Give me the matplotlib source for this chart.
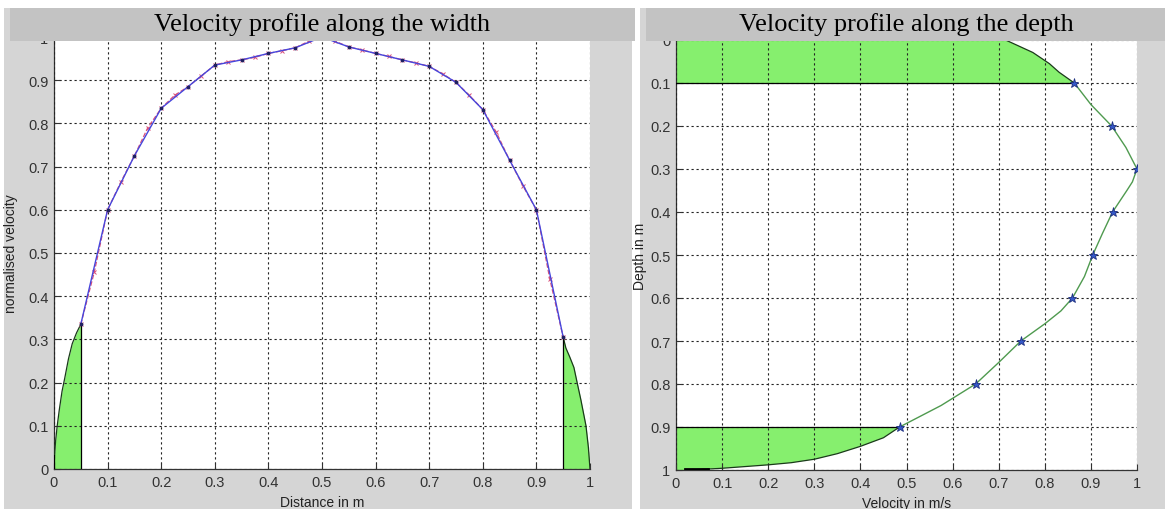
import matplotlib
matplotlib.use('Agg')
import matplotlib.pyplot as plt
from matplotlib import font_manager
from matplotlib.patches import Rectangle, Polygon
from matplotlib.ticker import FuncFormatter, MultipleLocator

# ---- data ----
# left chart: velocity profile along the width
width_x = [0.05, 0.1, 0.15, 0.2, 0.25, 0.3, 0.35, 0.4, 0.45, 0.5,
           0.55, 0.6, 0.65, 0.7, 0.75, 0.8, 0.85, 0.9, 0.95]
width_v = [0.335, 0.60, 0.725, 0.835, 0.885, 0.935, 0.947, 0.962, 0.975, 1.0,
           0.977, 0.962, 0.947, 0.932, 0.895, 0.832, 0.715, 0.60, 0.305]

fit_x = [0.05, 0.075, 0.1, 0.125, 0.15, 0.175, 0.2, 0.225, 0.25, 0.275, 0.3,
         0.325, 0.35, 0.375, 0.4, 0.425, 0.45, 0.475, 0.5, 0.525, 0.55, 0.575,
         0.6, 0.625, 0.65, 0.675, 0.7, 0.725, 0.75, 0.775, 0.8, 0.825, 0.85,
         0.875, 0.9, 0.925, 0.95]
fit_v = [0.335, 0.455, 0.60, 0.665, 0.725, 0.79, 0.835, 0.865, 0.885, 0.91, 0.935,
         0.943, 0.947, 0.953, 0.962, 0.968, 0.975, 0.99, 1.0, 0.99, 0.977, 0.97,
         0.962, 0.955, 0.947, 0.94, 0.932, 0.915, 0.895, 0.865, 0.832, 0.78, 0.715,
         0.655, 0.60, 0.44, 0.305]

# near-wall zones (green)
wall_l_x = [0.0, 0.001, 0.003, 0.006, 0.01, 0.015, 0.02, 0.027, 0.034, 0.042, 0.05]
wall_l_v = [0.0, 0.032, 0.065, 0.10, 0.138, 0.18, 0.21, 0.255, 0.29, 0.315, 0.335]
wall_r_x = [0.95, 0.955, 0.962, 0.97, 0.976, 0.983, 0.9925, 0.997, 1.0]
wall_r_v = [0.305, 0.28, 0.26, 0.235, 0.20, 0.16, 0.10, 0.05, 0.0]

# right chart: velocity profile along the depth
depth_pts = [0.1, 0.2, 0.3, 0.4, 0.5, 0.6, 0.7, 0.8, 0.9]
vel_pts = [0.864, 0.945, 1.0, 0.947, 0.904, 0.86, 0.748, 0.65, 0.485]

curve_depth = [0.0, 0.029, 0.055, 0.075, 0.1, 0.15, 0.2, 0.25, 0.3, 0.33, 0.35,
               0.4, 0.45, 0.5, 0.55, 0.6, 0.63, 0.66, 0.7, 0.75, 0.8, 0.85, 0.9]
curve_vel = [0.715, 0.774, 0.81, 0.831, 0.864, 0.90, 0.945, 0.976, 1.0, 0.99, 0.978,
             0.947, 0.925, 0.904, 0.886, 0.86, 0.835, 0.80, 0.748, 0.70, 0.65, 0.575, 0.485]

bed_depth = [0.9, 0.925, 0.945, 0.962, 0.975, 0.983, 0.988, 0.992, 0.996, 1.0]
bed_vel = [0.485, 0.45, 0.40, 0.35, 0.30, 0.25, 0.20, 0.15, 0.10, 0.03]

GREEN_FILL = '#86ef6e'
PANEL = '#d5d5d5'
BAR = '#c3c3c3'

names = {f.name for f in font_manager.fontManager.ttflist}
sans = 'Liberation Sans Narrow' if 'Liberation Sans Narrow' in names else 'Liberation Sans'
plt.rcParams['font.family'] = sans

W, H = 1165, 510
fig = plt.figure(figsize=(W / 100, H / 100), dpi=100, facecolor='white')


def fx(px):
    return px / W


def fy(py):
    # py measured from the top of the picture
    return 1 - py / H


# grey panels and title bars
fig.add_artist(Rectangle((fx(4), 0), fx(628), fy(9), transform=fig.transFigure,
                         facecolor=PANEL, edgecolor='none', zorder=-2))
fig.add_artist(Rectangle((fx(640), 0), fx(525), fy(9), transform=fig.transFigure,
                         facecolor=PANEL, edgecolor='none', zorder=-2))
fig.add_artist(Rectangle((fx(10), fy(42)), fx(625), 33 / H, transform=fig.transFigure,
                         facecolor=BAR, edgecolor='none', zorder=5))
fig.add_artist(Rectangle((fx(646), fy(42)), fx(519), 33 / H, transform=fig.transFigure,
                         facecolor=BAR, edgecolor='none', zorder=5))

ax1 = fig.add_axes([fx(54), fy(470), fx(536), 432 / H])
ax2 = fig.add_axes([fx(676), fy(471), fx(461), 430 / H])

fig.text(fx(322), fy(25), 'Velocity profile along the width', ha='center', va='center',
         family='Liberation Serif', fontsize=19, zorder=6)
fig.text(fx(906), fy(25), 'Velocity profile along the depth', ha='center', va='center',
         family='Liberation Serif', fontsize=19, zorder=6)


def style(ax):
    ax.set_xlim(0, 1)
    ax.xaxis.set_major_locator(MultipleLocator(0.1))
    ax.yaxis.set_major_locator(MultipleLocator(0.1))
    fmt = FuncFormatter(lambda v, p: '%g' % round(v, 2))
    ax.xaxis.set_major_formatter(fmt)
    ax.yaxis.set_major_formatter(fmt)
    ax.grid(True, color='#222222', linestyle=(0, (2, 2.5)), linewidth=0.8)
    ax.set_axisbelow(False)
    for s in ['top', 'right']:
        ax.spines[s].set_visible(False)
    for s in ['left', 'bottom']:
        ax.spines[s].set_color('#333333')
        ax.spines[s].set_linewidth(0.9)
    ax.tick_params(direction='in', length=4, width=0.8, colors='#333333',
                   labelsize=10.5, labelcolor='#333333', pad=4)


# ---- left chart ----
style(ax1)
ax1.set_ylim(0, 1)
ax1.fill_between(wall_l_x, wall_l_v, 0, color=GREEN_FILL, lw=0, zorder=1)
ax1.fill_between(wall_r_x, wall_r_v, 0, color=GREEN_FILL, lw=0, zorder=1)
ax1.plot(wall_l_x, wall_l_v, color='#1a3a1a', lw=0.9, zorder=3)
ax1.plot(wall_r_x, wall_r_v, color='#1a3a1a', lw=0.9, zorder=3)
ax1.plot([wall_l_x[-1], wall_l_x[-1]], [0, wall_l_v[-1]], color='black', lw=0.9, zorder=3)
ax1.plot([wall_r_x[0], wall_r_x[0]], [0, wall_r_v[0]], color='black', lw=0.9, zorder=3)
ax1.plot([0, 0], [0, 0.03], color='black', lw=1.5, zorder=3)
ax1.plot(fit_x, fit_v, color='#d9507a', ls='--', lw=0.9, marker='x', ms=3.5,
         mew=0.7, zorder=3)
ax1.plot(width_x, width_v, color='#4646dc', lw=1.0, marker='.', ms=3.5,
         mfc='#202060', mec='#202060', zorder=4)
ax1.set_xlabel('Distance in m', fontsize=10, color='#222222')
ax1.set_ylabel('normalised velocity', fontsize=10, color='#222222')
ax1.xaxis.set_label_coords(0.5, -0.06)
ax1.yaxis.set_label_coords(-0.068, 0.5)

# ---- right chart ----
style(ax2)
ax2.set_ylim(1, 0)
top_zone = list(zip(curve_vel[:5], curve_depth[:5])) + [(0, 0.1), (0, 0)]
bed_zone = list(zip(bed_vel, bed_depth)) + [(0, 1.0), (0, 0.9)]
ax2.add_patch(Polygon(top_zone, closed=True, facecolor=GREEN_FILL, edgecolor='none', zorder=1))
ax2.add_patch(Polygon(bed_zone, closed=True, facecolor=GREEN_FILL, edgecolor='none', zorder=1))
ax2.plot(curve_vel[:5], curve_depth[:5], color='#1a3a1a', lw=0.9, zorder=3)
ax2.plot(bed_vel, bed_depth, color='#1a3a1a', lw=0.9, zorder=3)
ax2.plot([0, vel_pts[0]], [0.1, 0.1], color='black', lw=0.9, zorder=3)
ax2.plot([0, vel_pts[-1]], [0.9, 0.9], color='black', lw=0.9, zorder=3)
ax2.plot([0.02, 0.07], [0.997, 0.997], color='black', lw=2.0, zorder=3)
ax2.plot(curve_vel[4:], curve_depth[4:], color='#4f9a4f', lw=1.0, zorder=3)
ax2.plot(vel_pts, depth_pts, ls='none', marker='*', ms=6.5, mfc='#3558c8',
         mec='#1d2f80', mew=0.6, zorder=4)
ax2.set_xlabel('Velocity in m/s', fontsize=10, color='#222222')
ax2.set_ylabel('Depth in m', fontsize=10, color='#222222')
ax2.xaxis.set_label_coords(0.5, -0.06)
ax2.yaxis.set_label_coords(-0.062, 0.5)

fig.savefig('out.png', dpi=100, facecolor='white')
